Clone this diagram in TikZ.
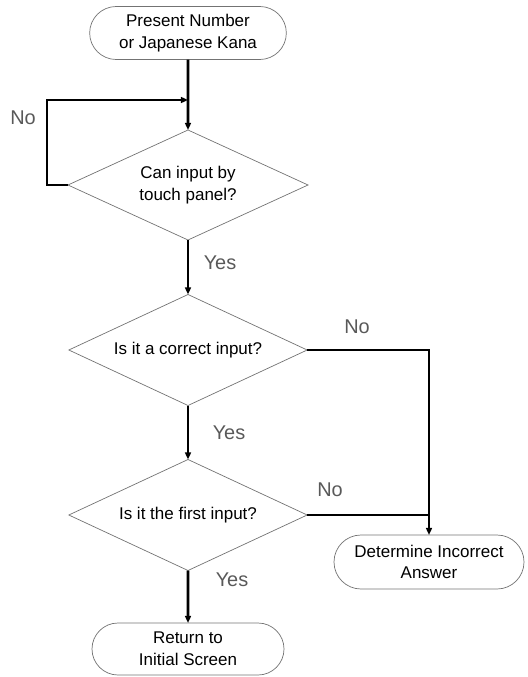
\documentclass[tikz,border=0pt]{standalone}
\usepackage{fontspec}
\setmainfont{Liberation Sans}
\usetikzlibrary{shapes.geometric,shapes.misc,arrows.meta}

\begin{document}
\begin{tikzpicture}[x=0.03cm,y=-0.03cm,
    terminal/.style={rounded rectangle,draw=black!55,line width=0.6pt,align=center,
      inner sep=0pt,outer sep=0pt,font=\fontsize{14.5}{18.5}\selectfont},
    decision/.style={diamond,aspect=2.17,draw=black!55,line width=0.6pt,align=center,inner sep=0pt,
      outer sep=0pt,minimum width=7.15cm,minimum height=3.33cm,font=\fontsize{14.5}{18.5}\selectfont},
    flow/.style={line width=2.2pt,-{Triangle[length=6pt,width=5pt]}},
    line/.style={line width=2.2pt},
    answer/.style={text=black!65,font=\fontsize{17}{20}\selectfont}]
    \useasboundingbox (0,0) rectangle (527,677);

    % Draw the start and the three questions
    \node[terminal,minimum width=5.9cm,minimum height=1.59cm] (start) at (188,33)
        {Present Number\\or Japanese Kana};
    \node[decision,minimum width=7.2cm,minimum height=3.3cm] (touch) at (188,185)
        {Can input by\\touch panel?};
    \node[decision] (correct) at (188,350) {Is it a correct input?};
    \node[decision] (first) at (188,515) {Is it the first input?};

    % Draw the two ends
    \node[terminal,minimum width=5.76cm,minimum height=1.56cm] (back) at (188,649)
        {Return to\\Initial Screen};
    \node[terminal,minimum width=5.7cm,minimum height=1.62cm] (wrong) at (429,562)
        {Determine Incorrect\\Answer};

    % Draw the connectors
    \coordinate (loop) at (47,100);
    \draw[flow] (start) -- (touch);
    \draw[flow] (touch.west) -| (loop) -- (loop -| touch.north);
    \draw[flow] (touch) -- (correct);
    \draw[flow] (correct) -- (first);
    \draw[flow] (first) -- (back);
    \draw[flow] (correct.east) -| (wrong.north);
    \draw[line] (first.east) -- (first.east -| wrong.north);

    % Label the branches
    \node[answer] (no1) at (23,118) {No};
    \node[answer] (yes1) at (220,263) {Yes};
    \node[answer] (no2) at (357,327) {No};
    \node[answer] (yes2) at (229,433) {Yes};
    \node[answer] (no3) at (330,490) {No};
    \node[answer] (yes3) at (232,580) {Yes};
\end{tikzpicture}
\end{document}
